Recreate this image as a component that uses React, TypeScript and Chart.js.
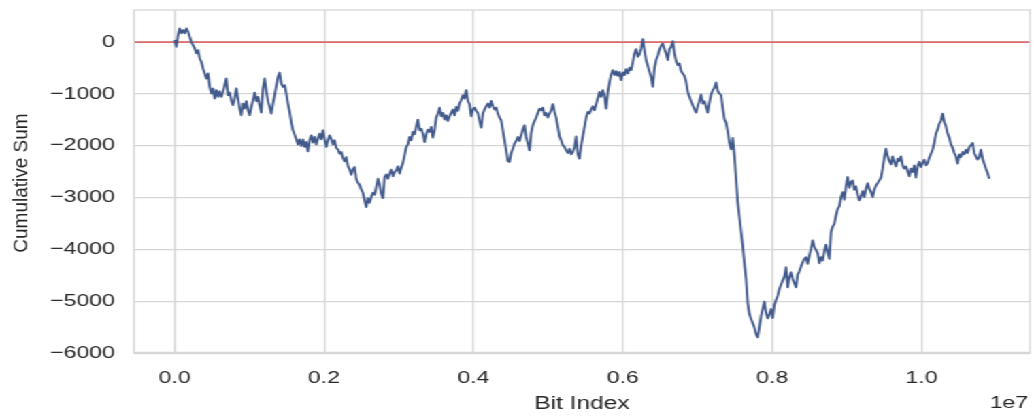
import React, { useEffect, useRef } from 'react';
import { Chart, registerables } from 'chart.js';

Chart.register(...registerables);

const CUM_SUM_PART_1 = [
  40, -90, 135, 264, 168, 232, 168, 264, 200, 103,
  6, -58, -122, -219, -155, -316, -380, -509, -606, -703,
  -606, -864, -993, -896, -1090, -928, -1057, -948, -1057, -961,
  -832, -703, -1025, -974, -1122, -1218, -1090, -896, -1090, -1283,
  -1412, -1186, -1283, -1141, -1315, -1412, -1251, -1122, -974, -1141,
  -1057, -1231, -1360, -896, -703, -948, -1141, -1251, -1380, -1186,
  -1025, -845, -670, -587, -800, -864, -832, -993, -1186, -1347,
  -1554, -1702, -1786, -1876, -1979, -1876, -2005, -1876, -2024, -1928,
  -2108, -1895, -1799, -1941, -1831, -1979, -1863, -1766, -1876, -1702,
  -1876, -2024, -1895, -1799, -1876, -1979, -1895, -2044, -2070, -2153,
  -2121, -2237, -2302, -2218, -2392, -2456, -2560, -2456, -2411, -2637,
  -2714, -2753, -2843, -2908, -3056, -3185, -3011, -3101, -2991, -2908,
  -2947, -2798, -2637, -2753, -2927, -3011,
];

const CUM_SUM_PART_2 = [
  -2605, -2553, -2637, -2540, -2463, -2592, -2508, -2476, -2398, -2540,
  -2424, -2334, -2186, -2025, -1973, -1831, -1895, -1734, -1779, -1638,
  -1496, -1702, -1670, -1766, -1928, -1779, -1689, -1734, -1638, -1844,
  -1702, -1457, -1380, -1264, -1431, -1367, -1496, -1412, -1522, -1431,
  -1367, -1302, -1412, -1251, -1328, -1186, -1122, -1025, -1090, -928,
  -1135, -1199, -1431, -1302, -1264, -1328, -1367, -1522, -1650, -1380,
  -1302, -1238, -1186, -1264, -1135, -1238, -1302, -1264, -1380, -1457,
  -1509, -1702, -1895, -2089, -2295, -2314, -2140, -2057, -1960, -1908,
  -1831, -1908, -1799, -1689, -1605, -1831, -1960, -2089, -1754, -1605,
  -1522, -1457, -1367, -1283, -1315, -1264, -1412, -1367, -1457, -1380,
  -1315, -1199, -1347, -1457, -1638, -1818, -1895, -1992, -2024, -2089,
  -2140, -2057, -2166, -2121, -2024, -1818, -2166, -2250, -1992, -1818,
  -1638, -1457, -1347, -1380, -1302, -1238, -1315, -1199, -1090,
];

const CUM_SUM_PART_3 = [
  -961, -1057, -928, -1038, -1283, -961, -780, -625, -542, -638,
  -561, -651, -574, -735, -587, -638, -522, -606, -496, -542,
  -393, -219, -135, -284, -239, -122, 58, -155, -348, -458,
  -574, -670, -864, -509, -348, -264, -155, -71, -26, -135,
  -219, -348, -135, -90, 19, -219, -367, -445, -413, -561,
  -606, -651, -767, -961, -1057, -1141, -1218, -1296, -1360, -1231,
  -1141, -1012, -1186, -1141, -1251, -1360, -1167, -1012, -928, -883,
  -780, -948, -993, -1025, -1270, -1489, -1554, -1721, -1940, -2069,
  -1850, -2186, -2637, -3088, -3378, -3655, -3926, -4261, -4571, -5035,
  -5248, -5345, -5422, -5506, -5635, -5699, -5506, -5293, -5151, -5009,
  -5228, -5332,
];

const CUM_SUM_PART_4 = [
  -5248, -5151, -5325, -5067, -4977, -4893, -4764, -4680, -4603, -4526,
  -4345, -4732, -4539, -4442, -4571, -4655, -4732, -4487, -4423, -4332,
  -4248, -4184, -4152, -4281, -4120, -3991, -3829, -3958, -4010, -4074,
  -4268, -4152, -4216, -4036, -3907, -4055, -4184, -3668, -3559, -3507,
  -3346, -3217, -3172, -2991, -2895, -3043, -2785, -2604, -2811, -2701,
  -2669, -2850, -2785, -2940, -3056, -2978, -2875, -2991, -2830, -2721,
  -2830, -2895, -2991, -2850, -2766, -2721, -2669, -2617, -2443, -2231,
  -2056, -2205, -2295, -2360, -2205, -2314, -2398, -2250, -2295, -2205,
  -2379, -2443, -2398, -2489, -2592, -2443, -2508, -2379, -2617, -2398,
  -2314, -2411, -2334, -2269, -2379, -2334, -2231, -2153, -2076, -1947,
  -1766, -1689, -1573, -1521, -1380, -1541, -1625, -1766, -1844, -1973,
  -2037, -2140, -2205, -2347, -2166, -2218, -2121, -2166, -2076, -2140,
  -2024, -1992, -1947, -2140, -2205, -2269, -2218, -2076, -2250, -2347,
  -2443, -2527, -2637,
];

const CUM_SUM = [...CUM_SUM_PART_1, ...CUM_SUM_PART_2, ...CUM_SUM_PART_3, ...CUM_SUM_PART_4];
const SAMPLE_STEP = 22306; // bits between samples

const X_TICKS = [0, 2e6, 4e6, 6e6, 8e6, 10e6];
const Y_TICKS = [-6000, -5000, -4000, -3000, -2000, -1000, 0];
const X_LIMITS = [-545000, 11453000];
const Y_LIMITS = [-6000, 619];
const REFERENCE_LEVEL = 0;

const X_LABEL = 'Bit Index';
const Y_LABEL = 'Cumulative Sum';
const X_OFFSET_TEXT = '1e7';

// drawing geometry (unstretched canvas, then widened horizontally)
const CANVAS_W = 760;
const CANVAS_H = 416;
const STRETCH = 1034 / CANVAS_W;
const FONT = '"Liberation Sans", Arial, Helvetica, sans-serif';
const TEXT_COLOR = '#262626';
const GRID_COLOR = '#d6d6d6';
const LINE_COLOR = '#41598b';
const REF_COLOR = '#dc3c3c';

const fmtY = (v: number) => (v < 0 ? '\u2212' + Math.abs(v) : String(v));

const zeroPadding = (s: any) => {
  s.paddingTop = 0;
  s.paddingBottom = 0;
  s.paddingLeft = 0;
  s.paddingRight = 0;
};

export default function App() {
  const ref = useRef<HTMLCanvasElement | null>(null);

  useEffect(() => {
    const canvas = ref.current;
    if (!canvas) return;

    const decor = {
      id: 'mplDecor',
      afterDraw(chart: any) {
        const { ctx, chartArea: a } = chart;
        ctx.save();
        ctx.strokeStyle = GRID_COLOR;
        ctx.lineWidth = 1.3;
        ctx.strokeRect(a.left, a.top, a.right - a.left, a.bottom - a.top);
        ctx.lineWidth = 2.4;
        ctx.beginPath();
        ctx.moveTo(a.left, a.bottom);
        ctx.lineTo(a.right, a.bottom);
        ctx.stroke();

        ctx.fillStyle = TEXT_COLOR;
        ctx.font = `17px ${FONT}`;
        ctx.textAlign = 'right';
        ctx.textBaseline = 'alphabetic';
        ctx.fillText(X_OFFSET_TEXT, a.right - 1.3, a.bottom + 55);

        ctx.translate(20.4, (a.top + a.bottom) / 2 + 1.5);
        ctx.scale(1 / STRETCH, 1);
        ctx.rotate(-Math.PI / 2);
        ctx.textAlign = 'center';
        ctx.font = `19px ${FONT}`;
        ctx.fillText(Y_LABEL, 0, 0);
        ctx.restore();
      },
    };

    const chart = new Chart(canvas, {
      type: 'line',
      data: {
        datasets: [
          {
            data: CUM_SUM.map((y, i) => ({ x: i * SAMPLE_STEP, y })),
            borderColor: LINE_COLOR,
            borderWidth: 1.8,
            borderJoinStyle: 'round',
            pointRadius: 0,
            fill: false,
            tension: 0,
          },
          {
            data: X_LIMITS.map((x) => ({ x, y: REFERENCE_LEVEL })),
            borderColor: REF_COLOR,
            borderWidth: 1.1,
            pointRadius: 0,
            fill: false,
          },
        ],
      },
      options: {
        responsive: false,
        animation: false,
        devicePixelRatio: 1,
        layout: { padding: { left: 0, right: CANVAS_W - 1030 / STRETCH, top: 10, bottom: 0 } },
        plugins: { legend: { display: false }, tooltip: { enabled: false } },
        scales: {
          x: {
            type: 'linear',
            min: X_LIMITS[0],
            max: X_LIMITS[1],
            afterBuildTicks: (s: any) => {
              s.ticks = X_TICKS.map((value) => ({ value }));
            },
            afterFit: (s: any) => {
              s.height = 63;
              zeroPadding(s);
            },
            grid: { color: GRID_COLOR, lineWidth: 1.3, drawTicks: false },
            border: { display: false },
            ticks: {
              padding: 15.3,
              maxRotation: 0,
              autoSkip: false,
              color: TEXT_COLOR,
              font: { family: FONT, size: 17 },
              callback: (v: any) => (Number(v) / 1e7).toFixed(1),
            },
            title: {
              display: true,
              text: X_LABEL,
              color: TEXT_COLOR,
              font: { family: FONT, size: 18 },
              padding: { top: 0, bottom: 1.5 },
            },
          },
          y: {
            type: 'linear',
            min: Y_LIMITS[0],
            max: Y_LIMITS[1],
            afterBuildTicks: (s: any) => {
              s.ticks = Y_TICKS.map((value) => ({ value }));
            },
            afterFit: (s: any) => {
              s.width = 134 / STRETCH;
              zeroPadding(s);
            },
            grid: { color: GRID_COLOR, lineWidth: 1.3, drawTicks: false },
            border: { display: false },
            ticks: {
              padding: (134 - 115) / STRETCH,
              color: TEXT_COLOR,
              font: { family: FONT, size: 17 },
              callback: (v: any) => fmtY(Number(v)),
            },
          },
        },
      },
      plugins: [decor],
    } as any);

    return () => chart.destroy();
  }, []);

  return (
    <div
      style={{
        position: 'absolute',
        left: 0,
        top: 0,
        width: CANVAS_W,
        height: CANVAS_H,
        transform: `scaleX(${STRETCH})`,
        transformOrigin: '0 0',
        background: '#ffffff',
      }}
    >
      <canvas ref={ref} width={CANVAS_W} height={CANVAS_H} />
    </div>
  );
}
